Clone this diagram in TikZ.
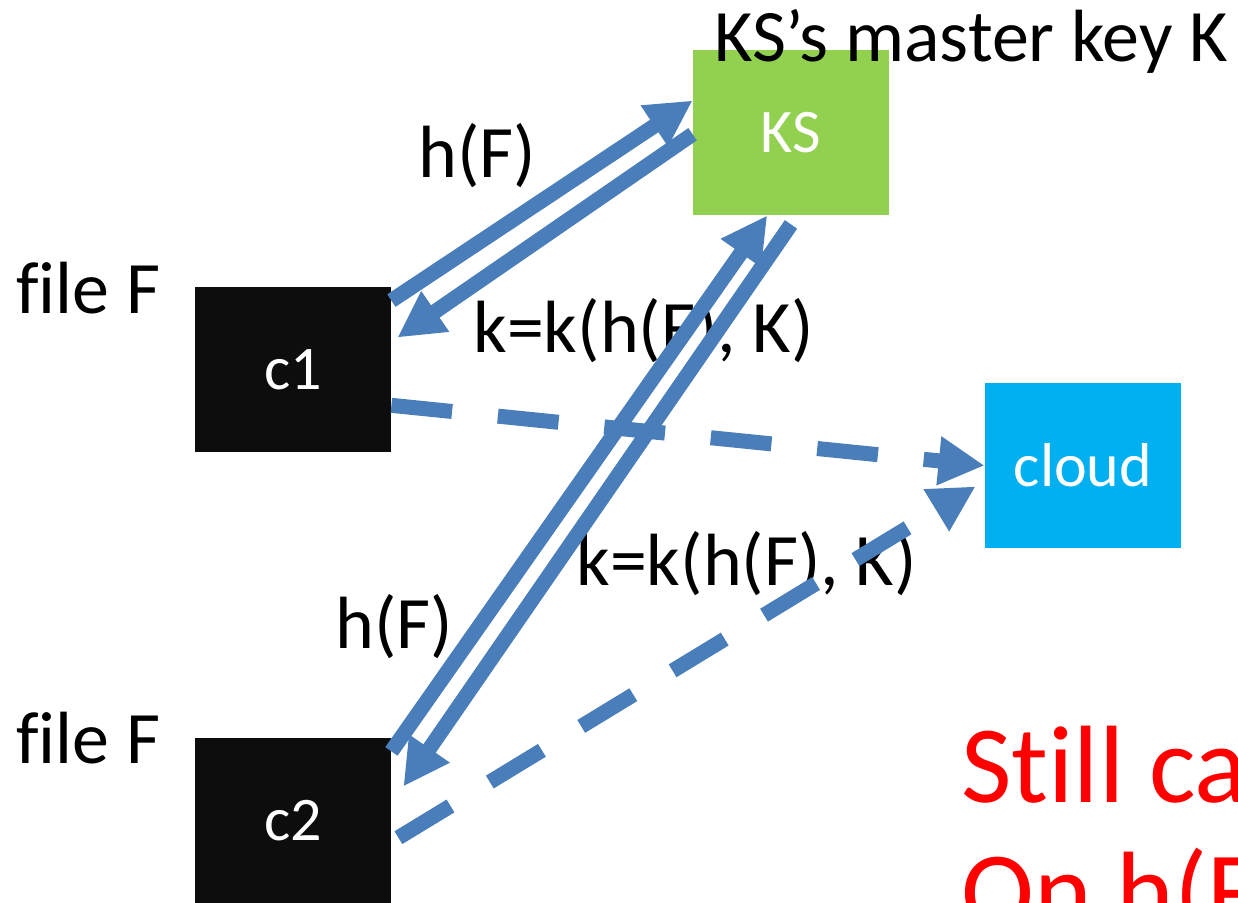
\documentclass[tikz,border=0pt]{standalone}
\usepackage{fontspec}
\setmainfont{Carlito}[Ligatures={TeX,NoCommon}]
\usepackage{tikz}
\usetikzlibrary{arrows.meta,positioning}

\definecolor{ksgreen}{HTML}{92D050}
\definecolor{cloudblue}{HTML}{00B0F0}
\definecolor{boxblack}{HTML}{0D0D0D}
\definecolor{flowblue}{HTML}{4A7EBB}

\begin{document}
\begin{tikzpicture}[
		x=0.5pt, y=-0.5pt,
		box/.style={
			rectangle,
			fill=boxblack,
			text=white,
			minimum width=98pt,
			minimum height=82.5pt,
			inner sep=0pt,
			font=\fontsize{31}{37}\selectfont
		},
		flow/.style={
			draw=flowblue,
			line width=7.5pt,
			-{Triangle[length=23pt,width=23pt]}
		},
		upload/.style={flow, dash pattern=on 30.5pt off 23pt},
		msg/.style={inner sep=0pt, anchor=base west, font=\fontsize{37}{44}\selectfont}
		]
		\useasboundingbox (0,0) rectangle (1238,902);
		\clip (0,0) rectangle (1238,902);

		% Parties
		\node[box, fill=ksgreen] (ks) at (791,132.5) {KS};
		\node[box] (c1) at (293,369.5) {c1};
		\node[box, below=142.5pt of c1] (c2) {c2};
		\node[box, fill=cloudblue] (cloud) at (1083,465.5) {cloud};

		% Texts
		\node[msg] (master) at (714,61) {KS’s master key K};
		\node[msg] (file1) at (16,313) {file F};
		\node[msg] (file2) at (16,763) {file F};
		\node[msg] (hf1) at (418,177) {h(F)};
		\node[msg] (key1) at (473,352) {k=k(h(F), K)};
		\node[msg] (hf2) at (335,648) {h(F)};
		\node[msg] (key2) at (576,585) {k=k(h(F), K)};
		\node[msg, red, font=\fontsize{55}{66}\selectfont] (still) at (961,802) {Still ca};
		\node[msg, red, font=\fontsize{55}{66}\selectfont] (onhf) at (961,928) {On h(F};

		% Key requests and replies
		\draw[flow] (c1.35) -- (ks.162);
		\draw[flow] (ks.181) -- ([xshift=3pt]c1.18);
		\draw[flow] (c2.35) -- (ks.254);
		\draw[flow] ([yshift=-4.5pt]ks.south) -- ([xshift=6pt]c2.19);

		% Uploads
		\draw[upload] (c1.-20) -- (cloud.west);
		\draw[upload] ([xshift=3.5pt]c2.-10) -- ([xshift=-4.5pt]cloud.192);
\end{tikzpicture}
\end{document}
